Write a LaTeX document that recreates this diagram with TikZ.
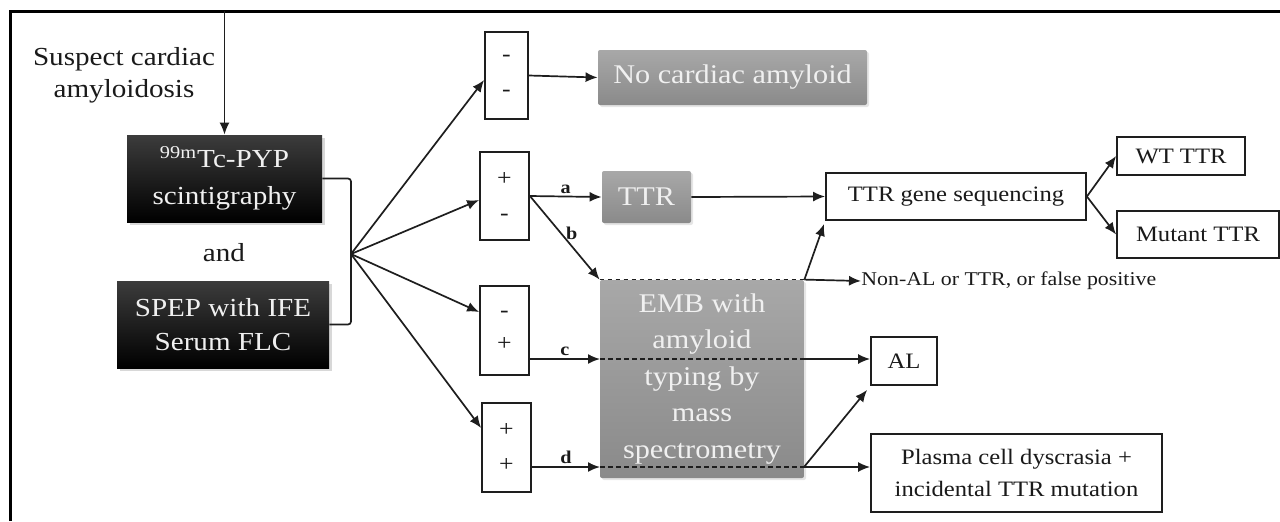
\documentclass[tikz,border=0pt]{standalone}
\usepackage{fontspec}
\setmainfont{Liberation Serif}[FakeStretch=1.12]
\usetikzlibrary{arrows.meta,shadows}
\definecolor{ln}{HTML}{1E1E1E}
\definecolor{gtop}{HTML}{A8A8A8}
\definecolor{gbot}{HTML}{8A8A8A}
\definecolor{btop}{HTML}{3C3C3C}
\definecolor{txtw}{HTML}{F0F0F0}
\definecolor{txtd}{HTML}{1A1A1A}
\begin{document}
\begin{tikzpicture}[x=0.5pt,y=-0.5pt,
  arr/.style={draw=ln, line width=0.85pt, -{Latex[length=6pt,width=5pt]}},
  lnk/.style={draw=ln, line width=0.85pt},
  wbox/.style={draw=ln, line width=0.9pt, fill=white, text=txtd, inner sep=0pt, align=center, font=\fontsize{11}{14}\selectfont},
  pmbox/.style={draw=ln, line width=0.9pt, fill=white, text=txtd, inner sep=0pt, align=center, font=\fontsize{11.5}{17.5}\selectfont},
  blk/.style={inner sep=0pt, align=center, text=txtw, top color=btop, bottom color=black, drop shadow={opacity=0.3,shadow xshift=1.5pt,shadow yshift=-1.5pt}, font=\fontsize{13}{18.5}\selectfont},
  gbox/.style={inner sep=0pt, align=center, text=txtw, top color=gtop, bottom color=gbot, rounded corners=1pt, drop shadow={opacity=0.2,shadow xshift=1pt,shadow yshift=-1pt}, font=\fontsize{13.5}{18.25}\selectfont},
  lab/.style={text=txtd, font=\bfseries\fontsize{9}{10}\selectfont, inner sep=1pt}]
\useasboundingbox (0,0) rectangle (1280,521);
\fill[white] (0,0) rectangle (1280,521);
\draw[line width=1.5pt] (10,521) -- (10,11) -- (1280,11);

% left column
\node[text=txtd, font=\fontsize{13}{16}\selectfont, align=center] (susp) at (124,75) {Suspect cardiac\\amyloidosis};
\node[blk, minimum width=97.5pt, minimum height=43.5pt] (pyp) at (224.5,178.5) {\textsuperscript{99m}Tc-PYP\\scintigraphy};
\node[text=txtd, font=\fontsize{13}{16}\selectfont] (and) at (224,253) {and};
\node[blk, minimum width=106pt, minimum height=43.5pt, font=\fontsize{13}{17}\selectfont] (spep) at (223,324.5) {SPEP with IFE\\Serum FLC};

% +/- boxes
\node[pmbox, minimum width=21.5pt, minimum height=43.5pt] (b1) at (506.5,75.5) {-\\-};
\node[pmbox, minimum width=24.5pt, minimum height=44pt] (b2) at (504.5,196) {+\\-};
\node[pmbox, minimum width=24.5pt, minimum height=44.5pt, font=\fontsize{11.5}{16.5}\selectfont] (b3) at (504.5,330.5) {-\\+};
\node[pmbox, minimum width=24.5pt, minimum height=44.5pt] (b4) at (506.5,447.5) {+\\+};

% grey boxes
\node[gbox, minimum width=134.5pt, minimum height=27.5pt] (nocard) at (732.5,77.5) {No cardiac amyloid};
\node[gbox, minimum width=44.5pt, minimum height=26pt] (ttr) at (646.5,197) {TTR};
\node[gbox, minimum width=102pt, minimum height=99pt] (emb) at (702,379) {EMB with\\amyloid\\typing by\\mass\\spectrometry};

% outcome boxes
\node[wbox, minimum width=130pt, minimum height=23.5pt] (seq) at (956,196.5) {TTR gene sequencing};
\node[wbox, minimum width=64pt, minimum height=19pt] (wt) at (1181,156) {WT TTR};
\node[wbox, minimum width=81pt, minimum height=23.5pt] (mut) at (1198,234.5) {Mutant TTR};
\node[wbox, minimum width=33pt, minimum height=24pt] (al) at (904,361) {AL};
\node[wbox, minimum width=145.5pt, minimum height=39pt, font=\fontsize{11}{16}\selectfont] (plasma) at (1016.5,473) {Plasma cell dyscrasia +\\incidental TTR mutation};
\node[anchor=west, inner sep=0pt, text=txtd, font=\fontsize{9.75}{11}\selectfont] (nonal) at (861,281) {Non-AL or TTR, or false positive};

% coordinates
\coordinate (top) at (224.5,11);
\coordinate (J) at (351,254);
\coordinate (cL) at (600,359);
\coordinate (cR) at (804,359);
\coordinate (dL) at (600,467);
\coordinate (dR) at (804,467);

% connectors
\draw[arr] (top) -- (pyp.north);
\draw[lnk, rounded corners=1.5pt] (pyp.east) -| (J) |- (spep.east);
\draw[arr] (J) -- ([yshift=-2.25pt]b1.west);
\draw[arr] (J) -- ([yshift=-2pt]b2.west);
\draw[arr] (J) -- ([yshift=9.25pt]b3.west);
\draw[arr] (J) -- ([yshift=9.75pt]b4.west);

\draw[arr] (b1.east) -- (nocard.west);
\draw[arr] (b2.east) -- node[lab, above]{a} (ttr.west);
\draw[arr] (b2.east) -- node[lab, pos=0.45, right=1pt]{b} (emb.north west);
\draw[arr] (ttr.east) -- (seq.west);
\draw[lnk, dashed, dash pattern=on 2.4pt off 1.6pt] (emb.north west) -- (emb.north east);
\draw[arr] (emb.north east) -- (nonal.west);
\draw[arr] (emb.north east) -- ([xshift=-0.5pt,yshift=-1.5pt]seq.south west);

\draw[arr] (b3.east |- cL) -- node[lab, above]{c} (cL);
\draw[lnk, dashed, dash pattern=on 2.4pt off 1.6pt] (cL) -- (cR);
\draw[arr] (cR) -- (al.west |- cR);

\draw[arr] (b4.east |- dL) -- node[lab, above]{d} (dL);
\draw[lnk, dashed, dash pattern=on 2.4pt off 1.6pt] (dL) -- (dR);
\draw[arr] (dR) -- (plasma.west |- dR);
\draw[arr] (dR) -- ([xshift=-1.5pt,yshift=-2pt]al.south west);

\draw[arr] (seq.east) -- (wt.west);
\draw[arr] (seq.east) -- (mut.west);
\end{tikzpicture}
\end{document}
